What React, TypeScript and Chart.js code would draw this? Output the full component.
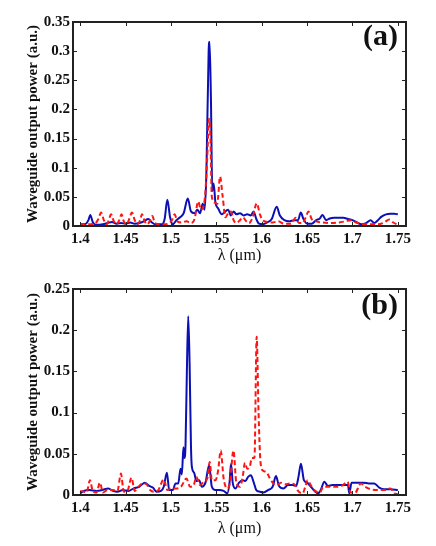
import React, { useEffect, useRef } from "react";
import { Chart, registerables } from "chart.js";

Chart.register(...registerables);

// ---------- data ----------
const xTickValues = [1.4, 1.45, 1.5, 1.55, 1.6, 1.65, 1.7, 1.75];
const yTickValuesA = [0, 0.05, 0.1, 0.15, 0.2, 0.25, 0.3, 0.35];
const yTickValuesB = [0, 0.05, 0.1, 0.15, 0.2, 0.25];

// Panel (a) blue solid
const lambdaA1 = [1.400, 1.405, 1.409, 1.411, 1.414, 1.418, 1.425, 1.430, 1.435, 1.440, 1.445, 1.450, 1.455, 1.460, 1.465, 1.470, 1.475, 1.479, 1.483, 1.490, 1.493, 1.496, 1.499, 1.502, 1.506, 1.510, 1.514, 1.5185, 1.522, 1.526, 1.529, 1.532, 1.535, 1.537, 1.539, 1.5415, 1.5425, 1.544, 1.5455, 1.547, 1.549, 1.552, 1.556, 1.560, 1.563, 1.566, 1.569, 1.572, 1.576, 1.580, 1.584, 1.588, 1.591, 1.594, 1.597, 1.601, 1.606, 1.611, 1.6165, 1.620, 1.625, 1.630, 1.636, 1.640, 1.643, 1.646, 1.650, 1.655, 1.660, 1.664, 1.667, 1.671, 1.675, 1.680, 1.685, 1.690, 1.695, 1.700, 1.705, 1.710, 1.715, 1.720, 1.724, 1.728, 1.732, 1.737, 1.742, 1.746, 1.750];
const powerA1 = [0.003, 0.003, 0.010, 0.019, 0.006, 0.002, 0.003, 0.005, 0.007, 0.004, 0.005, 0.004, 0.006, 0.004, 0.005, 0.008, 0.012, 0.006, 0.003, 0.003, 0.012, 0.045, 0.015, 0.003, 0.010, 0.015, 0.022, 0.047, 0.025, 0.022, 0.028, 0.022, 0.038, 0.028, 0.090, 0.300, 0.316, 0.220, 0.060, 0.073, 0.040, 0.030, 0.020, 0.025, 0.028, 0.018, 0.025, 0.020, 0.022, 0.018, 0.020, 0.018, 0.025, 0.012, 0.004, 0.003, 0.006, 0.012, 0.033, 0.018, 0.010, 0.008, 0.010, 0.010, 0.023, 0.012, 0.004, 0.004, 0.010, 0.013, 0.019, 0.010, 0.013, 0.014, 0.014, 0.014, 0.012, 0.010, 0.006, 0.003, 0.005, 0.010, 0.005, 0.010, 0.016, 0.020, 0.021, 0.021, 0.020];

// Panel (a) red dashed
const lambdaA2 = [1.400, 1.410, 1.416, 1.420, 1.423, 1.426, 1.429, 1.431, 1.434, 1.437, 1.440, 1.443, 1.4455, 1.448, 1.451, 1.454, 1.457, 1.460, 1.463, 1.466, 1.468, 1.471, 1.474, 1.477, 1.4795, 1.482, 1.486, 1.492, 1.497, 1.501, 1.504, 1.507, 1.512, 1.517, 1.522, 1.526, 1.530, 1.533, 1.536, 1.538, 1.540, 1.542, 1.5435, 1.545, 1.5485, 1.551, 1.552, 1.554, 1.557, 1.560, 1.563, 1.566, 1.569, 1.572, 1.576, 1.579, 1.583, 1.586, 1.590, 1.5945, 1.598, 1.601, 1.606, 1.612, 1.618, 1.625, 1.632, 1.6375, 1.641, 1.645, 1.6485, 1.6515, 1.655, 1.660, 1.667, 1.675, 1.685, 1.692, 1.698, 1.704, 1.712, 1.720, 1.728, 1.735, 1.7405, 1.745, 1.750];
const powerA2 = [0.002, 0.003, 0.004, 0.012, 0.023, 0.010, 0.003, 0.008, 0.020, 0.008, 0.003, 0.010, 0.020, 0.008, 0.003, 0.012, 0.023, 0.010, 0.003, 0.010, 0.020, 0.008, 0.003, 0.010, 0.017, 0.006, 0.003, 0.003, 0.004, 0.010, 0.020, 0.008, 0.006, 0.008, 0.005, 0.012, 0.042, 0.028, 0.035, 0.060, 0.120, 0.184, 0.150, 0.050, 0.040, 0.038, 0.050, 0.085, 0.050, 0.015, 0.022, 0.025, 0.010, 0.005, 0.010, 0.015, 0.008, 0.005, 0.015, 0.039, 0.020, 0.010, 0.007, 0.006, 0.008, 0.004, 0.004, 0.014, 0.005, 0.005, 0.015, 0.025, 0.012, 0.008, 0.006, 0.005, 0.006, 0.008, 0.010, 0.006, 0.003, 0.003, 0.003, 0.006, 0.011, 0.006, 0.002];

// Panel (b) blue solid
const lambdaB1 = [1.400, 1.404, 1.410, 1.418, 1.424, 1.431, 1.436, 1.441, 1.447, 1.453, 1.459, 1.465, 1.471, 1.476, 1.480, 1.484, 1.489, 1.492, 1.4955, 1.498, 1.502, 1.505, 1.508, 1.5105, 1.512, 1.5137, 1.5148, 1.516, 1.5175, 1.519, 1.5205, 1.522, 1.523, 1.5255, 1.528, 1.531, 1.534, 1.538, 1.542, 1.545, 1.549, 1.553, 1.558, 1.562, 1.5645, 1.5662, 1.568, 1.571, 1.575, 1.579, 1.582, 1.585, 1.588, 1.591, 1.594, 1.598, 1.602, 1.607, 1.612, 1.6157, 1.619, 1.624, 1.629, 1.634, 1.638, 1.6405, 1.6432, 1.6465, 1.650, 1.655, 1.658, 1.662, 1.665, 1.669, 1.673, 1.678, 1.684, 1.690, 1.695, 1.6965, 1.699, 1.705, 1.712, 1.718, 1.724, 1.7295, 1.735, 1.742, 1.750];
const powerB1 = [0.002, 0.005, 0.006, 0.005, 0.006, 0.008, 0.005, 0.004, 0.006, 0.005, 0.008, 0.010, 0.015, 0.011, 0.009, 0.004, 0.005, 0.010, 0.027, 0.006, 0.006, 0.014, 0.014, 0.032, 0.025, 0.058, 0.045, 0.060, 0.150, 0.217, 0.160, 0.060, 0.034, 0.027, 0.017, 0.018, 0.010, 0.015, 0.036, 0.010, 0.006, 0.006, 0.005, 0.002, 0.015, 0.038, 0.015, 0.008, 0.015, 0.018, 0.017, 0.022, 0.024, 0.016, 0.006, 0.004, 0.003, 0.006, 0.010, 0.023, 0.011, 0.008, 0.012, 0.012, 0.011, 0.022, 0.038, 0.018, 0.015, 0.009, 0.005, 0.002, 0.006, 0.016, 0.011, 0.012, 0.012, 0.012, 0.012, 0.002, 0.015, 0.015, 0.015, 0.014, 0.014, 0.009, 0.007, 0.007, 0.006];

// Panel (b) red dashed
const lambdaB2 = [1.400, 1.404, 1.407, 1.4107, 1.414, 1.418, 1.4217, 1.425, 1.430, 1.436, 1.441, 1.4448, 1.448, 1.452, 1.4565, 1.460, 1.464, 1.469, 1.473, 1.477, 1.481, 1.486, 1.492, 1.496, 1.500, 1.506, 1.511, 1.517, 1.521, 1.525, 1.528, 1.532, 1.536, 1.540, 1.5427, 1.545, 1.549, 1.552, 1.5548, 1.558, 1.562, 1.565, 1.5688, 1.572, 1.576, 1.579, 1.5815, 1.584, 1.587, 1.589, 1.592, 1.5944, 1.5965, 1.5985, 1.601, 1.605, 1.609, 1.613, 1.617, 1.621, 1.626, 1.631, 1.636, 1.640, 1.645, 1.648, 1.6505, 1.654, 1.659, 1.664, 1.668, 1.675, 1.682, 1.688, 1.6946, 1.698, 1.703, 1.7093, 1.714, 1.720, 1.728, 1.735, 1.742, 1.746, 1.750];
const powerB2 = [0.005, 0.004, 0.003, 0.018, 0.004, 0.003, 0.015, 0.003, 0.006, 0.006, 0.005, 0.026, 0.004, 0.005, 0.021, 0.005, 0.010, 0.014, 0.013, 0.006, 0.004, 0.006, 0.019, 0.006, 0.008, 0.008, 0.010, 0.020, 0.010, 0.012, 0.022, 0.012, 0.016, 0.020, 0.040, 0.018, 0.018, 0.030, 0.054, 0.020, 0.008, 0.015, 0.054, 0.015, 0.010, 0.022, 0.039, 0.032, 0.035, 0.045, 0.045, 0.192, 0.100, 0.042, 0.030, 0.028, 0.020, 0.014, 0.012, 0.015, 0.013, 0.014, 0.013, 0.005, 0.002, 0.010, 0.018, 0.012, 0.005, 0.003, 0.010, 0.010, 0.010, 0.011, 0.016, 0.003, 0.003, 0.014, 0.010, 0.007, 0.006, 0.006, 0.008, 0.002, 0.001];

const BLUE = "#0c10b4";
const RED = "#ff1414";
const SERIF = '"Liberation Serif", "Times New Roman", serif';

const zip = (xs: number[], ys: number[]) => xs.map((x, i) => ({ x, y: ys[i] }));
const fmt = (v: number) => String(+Number(v).toFixed(2));

const framePlugin = {
  id: "frame",
  afterDatasetsDraw(chart: any, _args: any, opts: any) {
    const { ctx, chartArea } = chart;
    const { left, top, right, bottom } = chartArea;
    ctx.save();
    // small inward ticks
    ctx.strokeStyle = "#222";
    ctx.lineWidth = 1;
    const xs = chart.scales.x;
    const ys = chart.scales.y;
    xs.ticks.forEach((t: any) => {
      const p = Math.round(xs.getPixelForValue(t.value)) + 0.5;
      ctx.beginPath();
      ctx.moveTo(p, bottom);
      ctx.lineTo(p, bottom - 4);
      ctx.moveTo(p, top);
      ctx.lineTo(p, top + 4);
      ctx.stroke();
    });
    ys.ticks.forEach((t: any) => {
      const p = Math.round(ys.getPixelForValue(t.value)) + 0.5;
      ctx.beginPath();
      ctx.moveTo(left, p);
      ctx.lineTo(left + 4, p);
      ctx.moveTo(right, p);
      ctx.lineTo(right - 4, p);
      ctx.stroke();
    });
    // frame
    ctx.strokeStyle = "#222";
    ctx.lineWidth = 2;
    ctx.strokeRect(left, top, right - left, bottom - top);
    // panel label
    ctx.fillStyle = "#111";
    ctx.font = `bold 30px ${SERIF}`;
    ctx.textAlign = "right";
    ctx.textBaseline = "middle";
    ctx.fillText(opts.label, right - 8, top + opts.labelDy);
    ctx.restore();
  },
};

type PanelProps = {
  blueX: number[];
  blueY: number[];
  redX: number[];
  redY: number[];
  yTicks: number[];
  yMax: number;
  label: string;
  labelDy: number;
  padTop: number;
  xAxisHeight: number;
};

function Panel(p: PanelProps) {
  const ref = useRef<HTMLCanvasElement | null>(null);
  useEffect(() => {
    if (!ref.current) return;
    const chart = new Chart(ref.current, {
      type: "line",
      data: {
        datasets: [
          {
            data: zip(p.redX, p.redY),
            borderColor: RED,
            borderWidth: 2,
            borderDash: [5, 3],
            pointRadius: 0,
            fill: false,
            cubicInterpolationMode: "monotone",
          },
          {
            data: zip(p.blueX, p.blueY),
            borderColor: BLUE,
            borderWidth: 2,
            pointRadius: 0,
            fill: false,
            cubicInterpolationMode: "monotone",
          },
        ],
      },
      options: {
        animation: false,
        responsive: false,
        devicePixelRatio: 1,
        parsing: false,
        layout: { padding: { left: 0, right: 30, top: p.padTop, bottom: 0 } },
        plugins: {
          legend: { display: false },
          tooltip: { enabled: false },
          frame: { label: p.label, labelDy: p.labelDy },
        } as any,
        scales: {
          x: {
            type: "linear",
            min: 1.392,
            max: 1.759,
            grid: { display: false, drawTicks: false },
            border: { display: false },
            afterBuildTicks: (s: any) => {
              s.ticks = xTickValues.map((v) => ({ value: v }));
            },
            afterFit: (s: any) => {
              s.height = p.xAxisHeight;
            },
            ticks: {
              autoSkip: false,
              maxRotation: 0,
              padding: 4,
              color: "#111",
              font: { family: SERIF, size: 15, weight: "bold" },
              callback: (v: any) => fmt(v),
            },
            title: {
              display: true,
              text: "λ (μm)",
              color: "#111",
              font: { family: SERIF, size: 16, weight: "normal" },
              padding: { top: 0, bottom: 8 },
            },
          },
          y: {
            type: "linear",
            min: 0,
            max: p.yMax,
            grid: { display: false, drawTicks: false },
            border: { display: false },
            afterBuildTicks: (s: any) => {
              s.ticks = p.yTicks.map((v) => ({ value: v }));
            },
            afterFit: (s: any) => {
              s.width = 73;
            },
            ticks: {
              autoSkip: false,
              padding: 3,
              color: "#111",
              font: { family: SERIF, size: 15, weight: "bold" },
              callback: (v: any) => fmt(v),
            },
            title: {
              display: true,
              text: "Waveguide output power (a.u.)",
              color: "#111",
              font: { family: SERIF, size: 15, weight: "bold" },
              padding: { top: 24, bottom: 0 },
            },
          },
        },
      } as any,
      plugins: [framePlugin as any],
    });
    return () => chart.destroy();
  }, []);
  return <canvas ref={ref} width={436} height={273} style={{ display: "block", width: 436, height: 273 }} />;
}

export default function App() {
  return (
    <div style={{ position: "absolute", left: 0, top: 0, width: 436, height: 546, background: "#fff" }}>
      <Panel
        blueX={lambdaA1}
        blueY={powerA1}
        redX={lambdaA2}
        redY={powerA2}
        yTicks={yTickValuesA}
        yMax={0.35}
        label="(a)"
        labelDy={15}
        padTop={22}
        xAxisHeight={47}
      />
      <Panel
        blueX={lambdaB1}
        blueY={powerB1}
        redX={lambdaB2}
        redY={powerB2}
        yTicks={yTickValuesB}
        yMax={0.25}
        label="(b)"
        labelDy={17}
        padTop={16}
        xAxisHeight={51}
      />
    </div>
  );
}
